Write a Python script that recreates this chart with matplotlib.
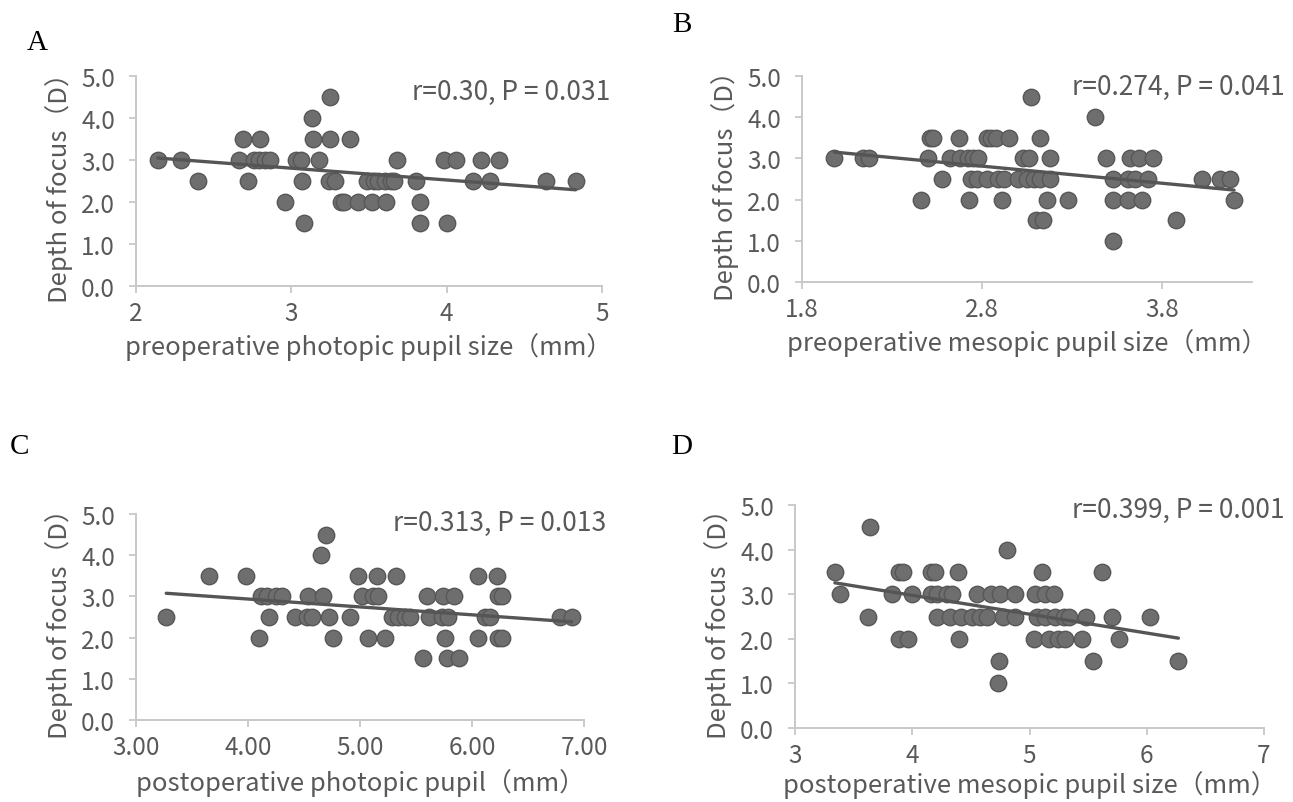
import matplotlib
matplotlib.use("Agg")
import matplotlib.pyplot as plt
import numpy as np

plt.rcParams['font.family'] = ['Noto Sans CJK SC', 'DejaVu Sans']

# ---------------- data ----------------
a_x = [2.14, 2.29, 2.40, 2.66, 2.69, 2.72, 2.76, 2.79, 2.83, 2.86, 2.80, 2.96, 3.03, 3.06,
       3.07, 3.08, 3.13, 3.14, 3.18, 3.25, 3.25, 3.24, 3.28, 3.32, 3.34, 3.38, 3.43,
       3.49, 3.53, 3.56, 3.52, 3.61, 3.60, 3.64, 3.66, 3.68, 3.80, 3.83, 3.83, 3.98,
       4.06, 4.00, 4.17, 4.22, 4.28, 4.34, 4.64, 4.83]
a_y = [3.0, 3.0, 2.5, 3.0, 3.5, 2.5, 3.0, 3.0, 3.0, 3.0, 3.5, 2.0, 3.0, 3.0,
       2.5, 1.5, 4.0, 3.5, 3.0, 4.5, 3.5, 2.5, 2.5, 2.0, 2.0, 3.5, 2.0,
       2.5, 2.5, 2.5, 2.0, 2.0, 2.5, 2.5, 2.5, 3.0, 2.5, 2.0, 1.5, 3.0,
       3.0, 1.5, 2.5, 3.0, 2.5, 3.0, 2.5, 2.5]

b_x = [1.98, 2.14, 2.17, 2.46, 2.50, 2.51, 2.53, 2.58, 2.62, 2.67, 2.68, 2.72, 2.75, 2.78,
       2.73, 2.74, 2.77, 2.83, 2.83, 2.85, 2.88, 2.91, 2.89, 2.92, 2.95, 3.00, 3.05,
       3.09, 3.12, 3.18, 3.03, 3.06, 3.07, 3.12, 3.10, 3.14, 3.16, 3.18, 3.28, 3.43,
       3.49, 3.53, 3.53, 3.53, 3.61, 3.65, 3.61, 3.62, 3.67, 3.69, 3.72, 3.75, 3.88,
       4.02, 4.12, 4.18, 4.20]
b_y = [3.0, 3.0, 3.0, 2.0, 3.0, 3.5, 3.5, 2.5, 3.0, 3.5, 3.0, 3.0, 3.0, 3.0,
       2.0, 2.5, 2.5, 2.5, 3.5, 3.5, 3.5, 2.0, 2.5, 2.5, 3.5, 2.5, 2.5,
       2.5, 2.5, 2.5, 3.0, 3.0, 4.5, 3.5, 1.5, 1.5, 2.0, 3.0, 2.0, 4.0,
       3.0, 2.5, 2.0, 1.0, 2.5, 2.5, 2.0, 3.0, 3.0, 2.0, 2.5, 3.0, 1.5,
       2.5, 2.5, 2.5, 2.0]

c_x = [3.27, 3.65, 3.98, 4.10, 4.12, 4.17, 4.25, 4.30, 4.19, 4.42, 4.54, 4.53, 4.57, 4.65,
       4.70, 4.67, 4.72, 4.76, 4.91, 4.98, 5.02, 5.12, 5.16, 5.07, 5.15, 5.22, 5.32,
       5.29, 5.34, 5.40, 5.45, 5.60, 5.56, 5.62, 5.74, 5.84, 5.73, 5.79, 5.76, 5.78,
       5.88, 6.05, 6.05, 6.12, 6.16, 6.22, 6.23, 6.27, 6.23, 6.27, 6.79, 6.89]
c_y = [2.5, 3.5, 3.5, 2.0, 3.0, 3.0, 3.0, 3.0, 2.5, 2.5, 3.0, 2.5, 2.5, 4.0,
       4.5, 3.0, 2.5, 2.0, 2.5, 3.5, 3.0, 3.0, 3.0, 2.0, 3.5, 2.0, 3.5,
       2.5, 2.5, 2.5, 2.5, 3.0, 1.5, 2.5, 3.0, 3.0, 2.5, 2.5, 2.0, 1.5,
       1.5, 3.5, 2.0, 2.5, 2.5, 3.5, 3.0, 3.0, 2.0, 2.0, 2.5, 2.5]

d_x = [3.34, 3.38, 3.64, 3.62, 3.83, 3.89, 3.92, 3.89, 3.96, 4.00, 4.16, 4.19, 4.16, 4.21,
       4.30, 4.34, 4.21, 4.32, 4.39, 4.40, 4.42, 4.51, 4.58, 4.64, 4.55, 4.67, 4.75,
       4.81, 4.77, 4.74, 4.73, 4.88, 4.88, 5.05, 5.13, 5.21, 5.11, 5.06, 5.13, 5.22,
       5.29, 5.34, 5.04, 5.17, 5.24, 5.30, 5.48, 5.45, 5.54, 5.62, 5.70, 5.76, 6.03, 6.27]
d_y = [3.5, 3.0, 4.5, 2.5, 3.0, 3.5, 3.5, 2.0, 2.0, 3.0, 3.5, 3.5, 3.0, 3.0,
       3.0, 3.0, 2.5, 2.5, 3.5, 2.0, 2.5, 2.5, 2.5, 2.5, 3.0, 3.0, 3.0,
       4.0, 2.5, 1.5, 1.0, 3.0, 2.5, 3.0, 3.0, 3.0, 3.5, 2.5, 2.5, 2.5,
       2.5, 2.5, 2.0, 2.0, 2.0, 2.0, 2.5, 2.0, 1.5, 3.5, 2.5, 2.0, 2.5, 1.5]

y_ticks = [0.0, 1.0, 2.0, 3.0, 4.0, 5.0]
a_xticks = [2, 3, 4, 5]
b_xticks = [1.8, 2.8, 3.8]
c_xticks = [3.0, 4.0, 5.0, 6.0, 7.0]
d_xticks = [3, 4, 5, 6, 7]

a_xlabel = "preoperative photopic pupil size（mm）"
b_xlabel = "preoperative mesopic pupil size（mm）"
c_xlabel = "postoperative photopic pupil（mm）"
d_xlabel = "postoperative mesopic pupil size（mm）"
ylabel = "Depth of focus（D）"
a_note = "r=0.30, P = 0.031"
b_note = "r=0.274, P = 0.041"
c_note = "r=0.313, P = 0.013"
d_note = "r=0.399, P = 0.001"

# ---------------- figure ----------------
W, H = 1293, 803
fig = plt.figure(figsize=(W / 100, H / 100), dpi=100)
fig.patch.set_facecolor('white')

TXT = '#595959'
AXC = '#C8C8C8'
MFC = '#6E6E6E'
MEC = '#575757'


def box(l, r, t, b):
    return [l / W, 1 - b / H, (r - l) / W, (b - t) / H]


def panel(rect, xs, ys, xlim, xticks, xfmt, xlabel, note, note_xy, letter, letter_xy,
          xlabel_y):
    ax = fig.add_axes(rect)
    ax.scatter(xs, ys, s=140, c=MFC, edgecolors=MEC, linewidths=1.0, zorder=3)
    k, b0 = np.polyfit(xs, ys, 1)
    lx = np.array([min(xs), max(xs)])
    ax.plot(lx, k * lx + b0, color='#555555', lw=2.4, zorder=4, solid_capstyle='round')
    ax.set_xlim(*xlim)
    ax.set_ylim(0, 5)
    ax.set_xticks(xticks)
    ax.set_xticklabels([xfmt.format(v) for v in xticks])
    ax.set_yticks(y_ticks)
    ax.set_yticklabels(["{:.1f}".format(v) for v in y_ticks])
    for s in ['top', 'right']:
        ax.spines[s].set_visible(False)
    for s in ['left', 'bottom']:
        ax.spines[s].set_color(AXC)
        ax.spines[s].set_linewidth(1.4)
    ax.tick_params(axis='both', colors=AXC, labelcolor=TXT, labelsize=17.5,
                   length=5, width=1.3, direction='out')
    ax.tick_params(axis='y', pad=10)
    ax.tick_params(axis='x', pad=5)
    ax.set_xlabel(xlabel, fontsize=18.5, color=TXT)
    # place x label centre at a fixed pixel height
    ax.xaxis.set_label_coords(0.5, 1 - xlabel_y / H, transform=fig.transFigure)
    ax.xaxis.label.set_va('center')
    ax.set_ylabel(ylabel, fontsize=18.5, color=TXT, labelpad=6)
    ax.set_facecolor('white')
    fig.text(note_xy[0] / W, 1 - note_xy[1] / H, note, ha='right', va='center',
             fontsize=19, color=TXT)
    fig.text(letter_xy[0] / W, 1 - letter_xy[1] / H, letter, ha='left', va='center',
             fontsize=21, color='black', family=['Liberation Serif'])
    return ax


axA = panel(box(136, 602, 77, 287), a_x, a_y, (2, 5), a_xticks, "{:d}", a_xlabel,
            a_note, (610, 92), "A", (27, 43), 347)
axB = panel(box(802, 1252, 77, 283), b_x, b_y, (1.8, 4.3), b_xticks, "{:.1f}", b_xlabel,
            b_note, (1285, 87), "B", (672, 25), 343)
axC = panel(box(136, 584, 515, 721), c_x, c_y, (3, 7), c_xticks, "{:.2f}", c_xlabel,
            c_note, (606, 523), "C", (10, 447), 783)
axD = panel(box(795, 1264, 506, 729), d_x, d_y, (3, 7), d_xticks, "{:d}", d_xlabel,
            d_note, (1285, 510), "D", (671, 447), 785)

# x-label centres: fix horizontal centre to the axes centre in figure coords
for ax in (axA, axB, axC, axD):
    pos = ax.get_position()
    lbl_y = ax.xaxis.label.get_position()[1]
    ax.xaxis.set_label_coords(pos.x0 + pos.width / 2, lbl_y, transform=fig.transFigure)

fig.savefig("out.png", dpi=100, facecolor='white')
